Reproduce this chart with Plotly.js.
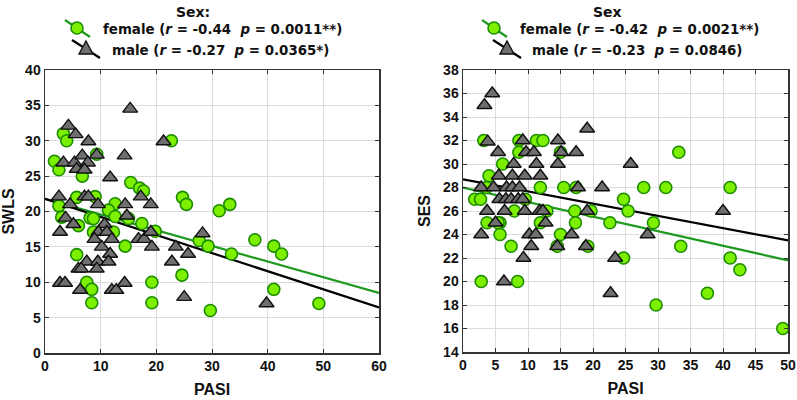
<!DOCTYPE html>
<html>
<head>
<meta charset="utf-8">
<script src="https://cdn.plot.ly/plotly-3.0.1.min.js"></script>
<style>html,body{margin:0;padding:0;background:#fff;}#chart{width:797px;height:400px;}</style>
</head>
<body>
<div id="chart"></div>
<script>
// ---------- DATA ----------
// Left panel: SWLS vs PASI
const swlsFemalePASI = [3.3,3.9,1.7,2.5,6.7,9.3,22.7,15.4,17.0,17.7,24.7,25.4,5.7,9.0,2.5,12.6,11.4,3.0,8.1,8.7,6.0,12.6,15.0,17.4,19.8,8.7,12.3,14.4,5.7,7.5,8.4,8.4,19.2,19.2,24.6,31.3,33.2,27.7,29.3,33.5,37.7,41.1,42.5,41.1,29.7,49.2];
const swlsFemale     = [31.0,30.0,27.1,25.9,25.0,28.1,30.0,24.1,23.3,22.9,22.0,21.0,22.0,22.1,20.8,21.1,20.2,19.2,19.1,19.0,18.0,19.3,19.0,18.3,17.2,17.1,17.1,15.1,13.9,10.0,9.0,7.1,10.0,7.1,11.0,20.1,21.0,15.9,15.1,14.0,16.0,15.1,14.0,9.0,6.0,7.0];
const swlsMalePASI = [4.2,5.5,7.8,3.3,5.3,6.7,7.7,9.3,5.7,7.1,14.3,21.3,11.7,15.3,2.5,4.5,7.1,7.8,9.5,14.4,17.2,19.0,3.7,5.1,2.7,10.7,14.7,9.6,11.1,8.9,12.0,16.8,17.8,19.0,10.2,19.2,23.5,11.7,7.5,9.5,11.4,6.0,6.5,9.3,22.8,2.7,3.6,6.3,12.0,12.8,14.3,25.0,28.3,25.7,39.8];
const swlsMale     = [32.1,30.9,29.9,26.9,26.9,27.9,26.9,28.0,26.0,25.9,27.9,29.9,24.8,34.5,22.1,21.0,22.1,22.1,21.0,21.0,22.1,21.0,19.1,18.2,17.1,18.2,19.4,17.1,17.1,16.1,16.1,16.1,16.1,17.1,15.0,15.0,15.0,14.0,12.9,12.9,12.9,11.9,11.9,11.9,12.9,9.9,9.9,8.9,8.9,8.9,9.9,7.9,16.9,14.0,7.0];
// fitted lines [intercept, slope]
const swlsFemaleFit = [21.8, -0.222];
const swlsMaleFit   = [21.8, -0.256];

// Right panel: SES vs PASI
const sesFemalePASI = [3.2,8.6,11.3,12.3,8.6,15.0,6.1,4.0,3.6,11.9,15.5,17.4,1.8,2.7,9.6,7.9,12.9,17.2,19.7,3.7,5.7,5.4,11.9,17.3,22.6,5.7,15.0,7.4,14.5,19.2,2.8,8.4,33.2,27.8,31.2,41.1,24.7,25.4,29.3,33.5,24.7,41.1,42.6,37.6,29.7,49.2];
const sesFemale     = [32.0,32.0,32.0,32.0,31.0,31.0,30.0,29.0,28.0,28.0,28.0,28.0,27.0,27.0,27.0,26.0,26.0,26.0,26.0,25.0,25.0,25.0,25.0,25.0,25.0,24.0,24.0,23.0,23.0,23.0,20.0,20.0,31.0,28.0,28.0,28.0,27.0,26.0,25.0,23.0,22.0,22.0,21.0,19.0,18.0,16.0];
const sesMalePASI = [4.5,3.3,3.8,9.2,14.6,19.1,5.4,9.7,10.9,15.1,17.4,7.8,11.3,14.6,5.5,7.6,9.5,11.9,2.8,4.7,6.7,7.6,8.7,17.7,21.4,5.6,6.6,7.4,8.5,9.2,3.7,6.4,9.5,11.8,12.3,19.1,5.0,12.7,2.8,10.2,11.2,16.7,10.5,14.5,18.9,9.3,6.3,25.8,40.0,28.4,23.4,22.7];
const sesMale     = [36.0,35.0,31.9,32.0,32.0,33.0,31.0,31.0,31.0,31.0,31.0,30.0,30.0,30.0,29.0,29.0,29.0,29.0,28.0,28.0,28.0,28.0,28.0,28.0,28.0,27.0,27.0,27.0,27.0,27.0,26.0,26.0,26.0,26.0,26.0,26.0,25.0,25.0,24.0,24.0,24.0,24.0,23.0,23.0,23.0,22.0,20.0,30.0,26.0,24.0,22.0,19.0];
const sesFemaleFit = [28.0, -0.124];
const sesMaleFit   = [28.7, -0.104];

const legendTitles = ["Sex:", "Sex"];
const legendFemale = ["female (<i>r</i> = -0.44\u00a0 <i>p</i> = 0.0011**)", "female (<i>r</i> = -0.42\u00a0 <i>p</i> = 0.0021**)"];
const legendMale   = ["male (<i>r</i> = -0.27\u00a0 <i>p</i> = 0.0365*)", "male (<i>r</i> = -0.23\u00a0 <i>p</i> = 0.0846)"];
const xRanges = [[0,60],[0,50]];
const yTitles = ["SWLS","SES"];

// ---------- STYLE ----------
const W = 797, H = 400;
const FONT = "Liberation Sans, Arial, sans-serif";
const LEG_FONT = "DejaVu Sans, Liberation Sans, sans-serif";
const GREEN_FILL = "#7cf000", GREEN_EDGE = "#1c8c00", GREEN_LINE = "#1f9a1f";
const TRI_FILL = "#6f6f6f";
const px = x => x / W, py = y => 1 - y / H;

function fitLine(fit, range, xa, ya, color) {
  return {x: range, y: range.map(v => fit[0] + fit[1]*v), xaxis: xa, yaxis: ya,
    mode: "lines", line: {color: color, width: 2.2}, hoverinfo: "skip", showlegend: false};
}
function femaleTrace(x, y, xa, ya) {
  return {x: x, y: y, xaxis: xa, yaxis: ya, mode: "markers", showlegend: false,
    marker: {symbol: "circle", size: 12, color: GREEN_FILL, line: {color: GREEN_EDGE, width: 1.6}}};
}
function maleTrace(x, y, xa, ya) {
  return {x: x, y: y, xaxis: xa, yaxis: ya, mode: "markers", showlegend: false,
    marker: {symbol: "triangle-up", size: 13, color: TRI_FILL, line: {color: "#111", width: 1.4}}};
}

const data = [
  fitLine(swlsFemaleFit, xRanges[0], "x", "y", GREEN_LINE),
  fitLine(swlsMaleFit, xRanges[0], "x", "y", "#000"),
  femaleTrace(swlsFemalePASI, swlsFemale, "x", "y"),
  maleTrace(swlsMalePASI, swlsMale, "x", "y"),
  fitLine(sesFemaleFit, xRanges[1], "x2", "y2", GREEN_LINE),
  fitLine(sesMaleFit, xRanges[1], "x2", "y2", "#000"),
  femaleTrace(sesFemalePASI, sesFemale, "x2", "y2"),
  maleTrace(sesMalePASI, sesMale, "x2", "y2")
];

const tickFont = {family: FONT, size: 14, color: "#111", weight: "bold"};
const titleFont = {family: FONT, size: 16, color: "#111", weight: "bold"};
function xAxis(domain, range, dtick, anchor) {
  return {domain: domain, range: range, dtick: dtick, anchor: anchor,
    showgrid: true, gridcolor: "#dcdcdc", gridwidth: 1, zeroline: false,
    showline: true, linecolor: "#333", linewidth: 1.5, mirror: "ticks",
    ticks: "inside", ticklen: 4, tickcolor: "#333", tickfont: tickFont,
    title: {text: "PASI", font: titleFont, standoff: 10}};
}
function yAxis(domain, range, dtick, anchor, title) {
  return {domain: domain, range: range, dtick: dtick, anchor: anchor,
    showgrid: true, gridcolor: "#dcdcdc", gridwidth: 1, zeroline: false,
    showline: true, linecolor: "#333", linewidth: 1.5, mirror: "ticks",
    ticks: "inside", ticklen: 4, tickcolor: "#333", tickfont: tickFont,
    title: {text: title, font: titleFont, standoff: 8}};
}

// legend geometry (pixels)
const leg = [
  {cx: 193, l1: [65,20,90,37], m1: [77,28], t1: 101, l2: [72,40,100,58], m2: [86,49], t2: 110},
  {cx: 607, l1: [482,20,507,37], m1: [494,28], t1: 518, l2: [493,40,521,58], m2: [507,49], t2: 530}
];
const shapes = [], annotations = [];
const legFont = {family: LEG_FONT, size: 13.4, color: "#111", weight: "bold"};
leg.forEach((g, i) => {
  annotations.push({xref: "paper", yref: "paper", x: px(g.cx), y: py(12), text: legendTitles[i], showarrow: false,
    xanchor: "center", yanchor: "middle", font: {family: LEG_FONT, size: 14, color: "#111", weight: "bold"}});
  annotations.push({xref: "paper", yref: "paper", x: px(g.t1), y: py(29), text: legendFemale[i], showarrow: false,
    xanchor: "left", yanchor: "middle", font: legFont});
  annotations.push({xref: "paper", yref: "paper", x: px(g.t2), y: py(50), text: legendMale[i], showarrow: false,
    xanchor: "left", yanchor: "middle", font: legFont});
  shapes.push({type: "line", xref: "paper", yref: "paper", x0: px(g.l1[0]), y0: py(g.l1[1]), x1: px(g.l1[2]), y1: py(g.l1[3]),
    line: {color: GREEN_LINE, width: 2.2}});
  shapes.push({type: "circle", xref: "paper", yref: "paper", x0: px(g.m1[0]-6), y0: py(g.m1[1]-6), x1: px(g.m1[0]+6), y1: py(g.m1[1]+6),
    fillcolor: GREEN_FILL, line: {color: GREEN_EDGE, width: 1.6}});
  shapes.push({type: "line", xref: "paper", yref: "paper", x0: px(g.l2[0]), y0: py(g.l2[1]), x1: px(g.l2[2]), y1: py(g.l2[3]),
    line: {color: "#000", width: 2.2}});
  const mx = g.m2[0], my = g.m2[1];
  shapes.push({type: "path", xref: "paper", yref: "paper",
    path: `M ${px(mx)} ${py(my-8)} L ${px(mx+7)} ${py(my+5)} L ${px(mx-7)} ${py(my+5)} Z`,
    fillcolor: TRI_FILL, line: {color: "#111", width: 1.4}});
});

const layout = {
  width: W, height: H,
  margin: {l: 0, r: 0, t: 0, b: 0},
  paper_bgcolor: "#fff", plot_bgcolor: "#fff",
  showlegend: false,
  xaxis: xAxis([px(45), px(379)], xRanges[0], 10, "y"),
  yaxis: yAxis([py(353), py(70)], [0, 40], 5, "x", yTitles[0]),
  xaxis2: xAxis([px(463), px(788)], xRanges[1], 5, "y2"),
  yaxis2: yAxis([py(352), py(70)], [14, 38], 2, "x2", yTitles[1]),
  shapes: shapes,
  annotations: annotations
};

Plotly.newPlot("chart", data, layout, {displayModeBar: false, staticPlot: true});
</script>
</body>
</html>
